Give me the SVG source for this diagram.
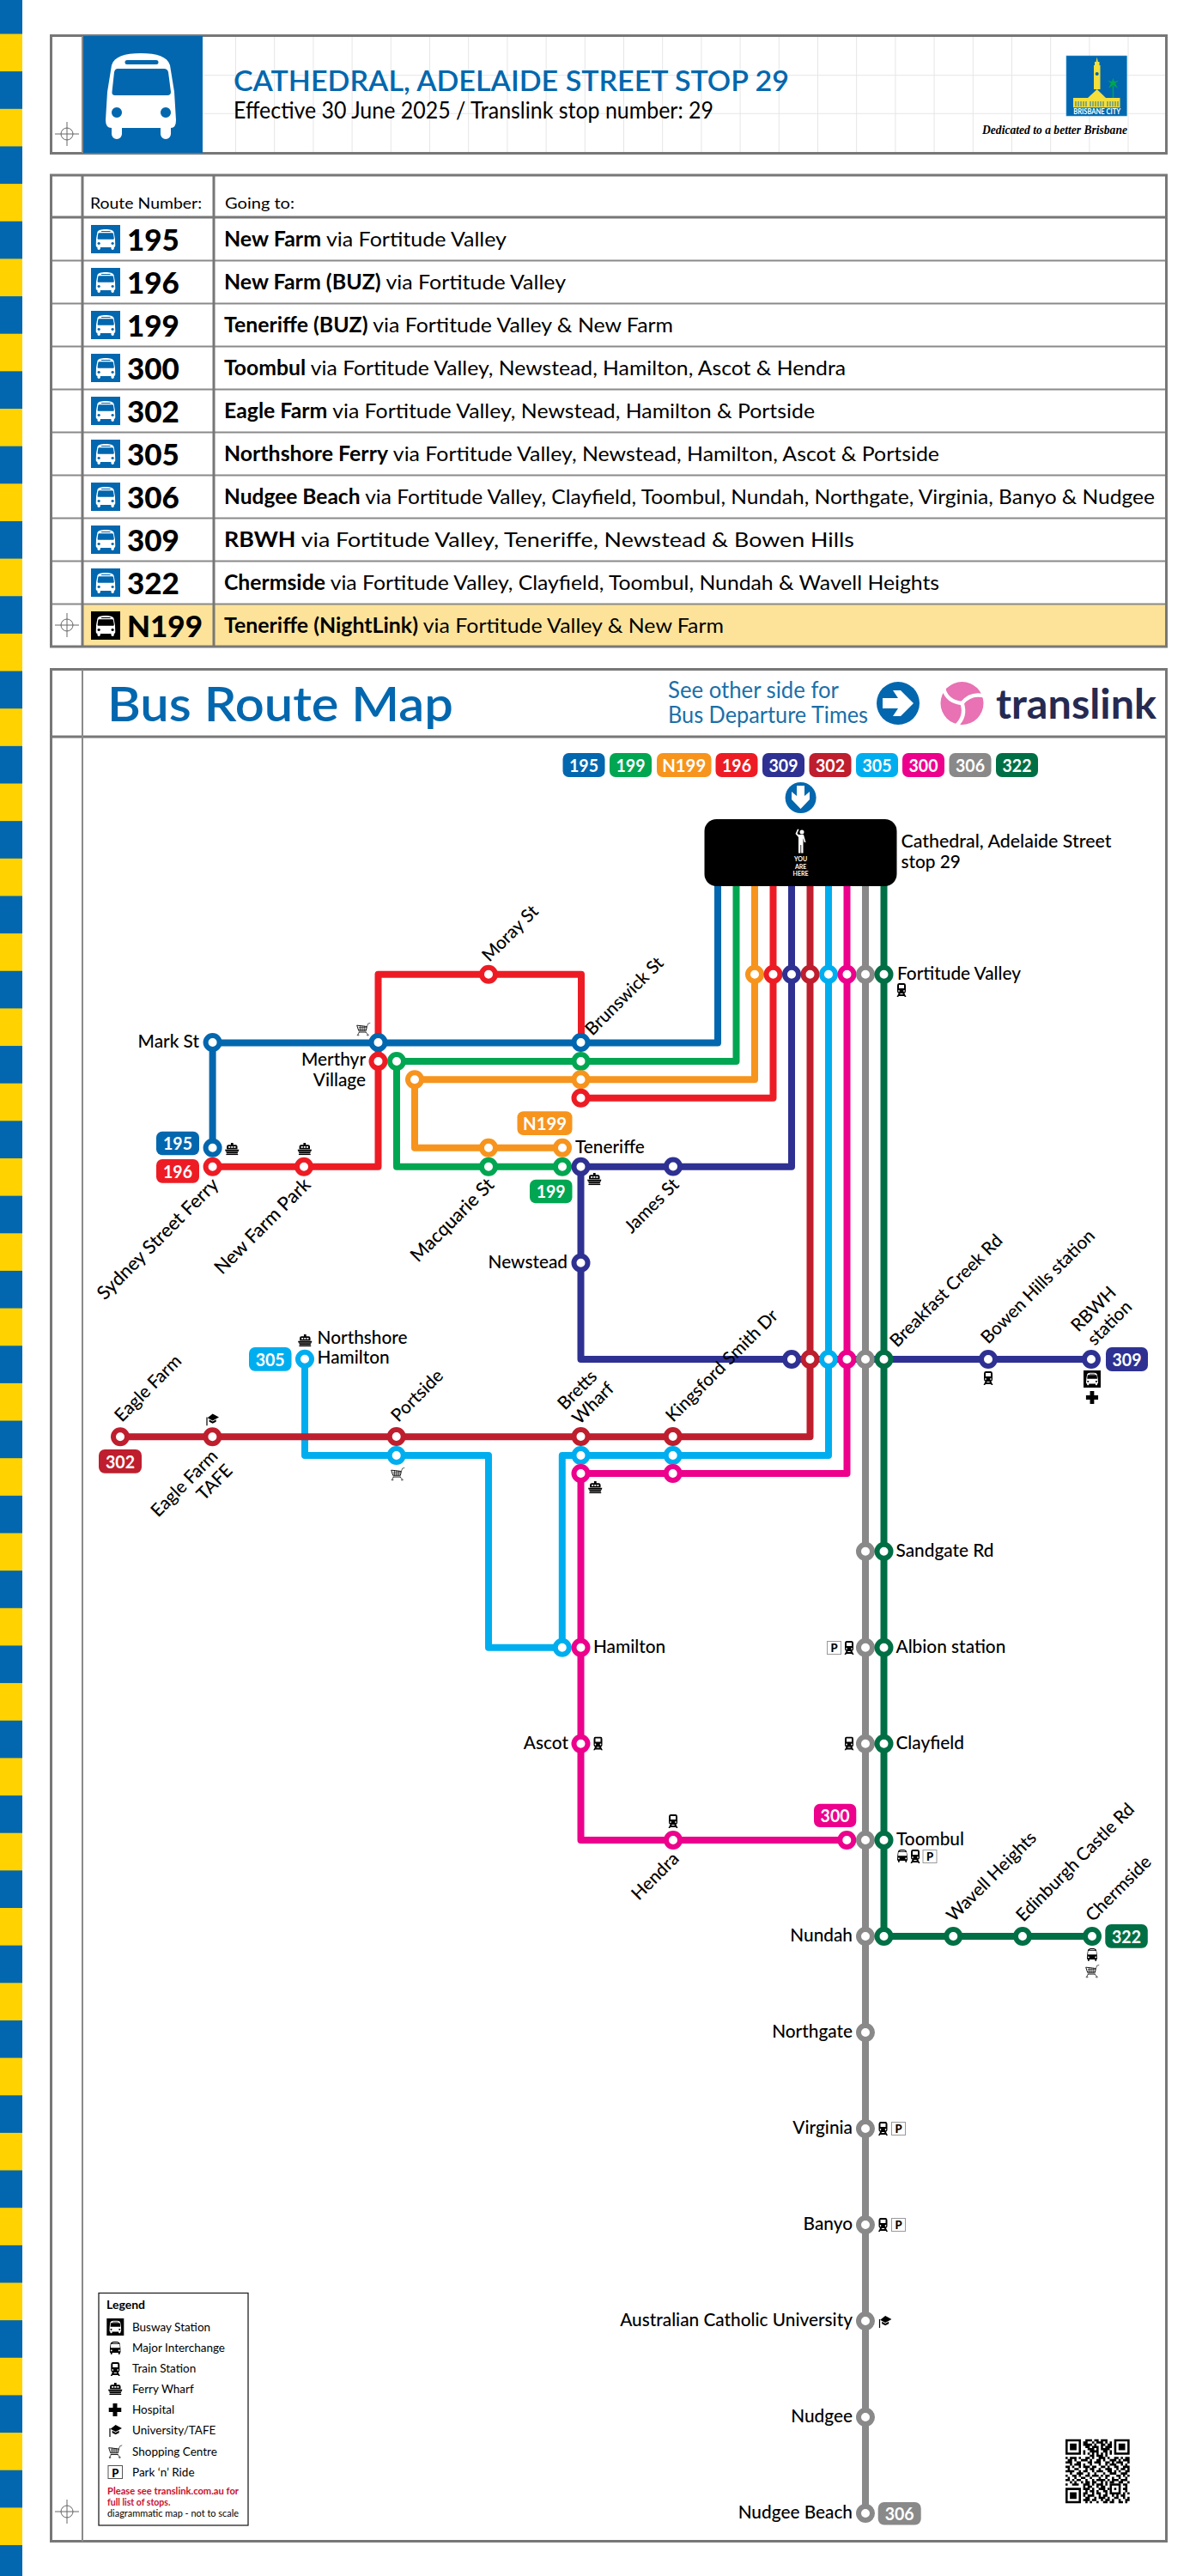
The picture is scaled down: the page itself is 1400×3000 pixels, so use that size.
<svg xmlns="http://www.w3.org/2000/svg" width="1400" height="3000" viewBox="0 0 1400 3000">
<style>
text{font-family:Lato,"Liberation Sans",sans-serif;fill:#000}
.frame{fill:none;stroke:#777;stroke-width:3}
.thin{stroke:#8a8a8a;stroke-width:2;fill:none}
.grid{stroke:#e6e6e6;stroke-width:1;fill:none}
.ln{fill:none;stroke-width:8;stroke-linejoin:round}
.s{fill:#fff;stroke-width:6}
.l{font-size:20.800px;font-weight:500}
.p{font-size:21px;font-weight:700;fill:#fff;text-anchor:middle}
.e{text-anchor:end}
.n{font-size:35px;font-weight:900}
.d{font-size:24px}
.b{font-weight:700}
.lg{font-size:13.500px}
.pk{fill:#fff;stroke:#999;stroke-width:1}
.pt{font-size:13px;font-weight:900;text-anchor:middle}
.blue{stroke:#0267ae}.green{stroke:#00a651}.orange{stroke:#f7941d}.red{stroke:#ed1c24}.navy{stroke:#2e3192}.crim{stroke:#be1e2d}.sky{stroke:#00aeef}.mag{stroke:#ec008c}.gray{stroke:#898989}.dk{stroke:#006f45}
.fblue{fill:#0267ae}.fgreen{fill:#00a651}.forange{fill:#f7941d}.fred{fill:#ed1c24}.fnavy{fill:#2e3192}.fcrim{fill:#be1e2d}.fsky{fill:#00aeef}.fmag{fill:#ec008c}.fgray{fill:#898989}.fdk{fill:#006f45}
</style>
<defs>
<pattern id="stripe" patternUnits="userSpaceOnUse" x="0" y="-4.15" width="26" height="87.3">
<rect width="26" height="43.65" fill="#0267ae"/><rect y="43.65" width="26" height="43.65" fill="#ffd200"/>
</pattern>
<symbol id="bus" viewBox="0 0 82 100" preserveAspectRatio="none">
<path fill-rule="evenodd" d="M41 0C60 0 72 4 75 14L80 45L82 78Q82 87 76 87V94a6 6 0 0 1-12 0V87H19V94a6 6 0 0 1-12 0V87Q0 87 0 78L2 45L7 14C10 4 22 0 41 0ZM25 8a2.400 2.400 0 0 0 0 5H59a2.400 2.400 0 0 0 0-5ZM14 18Q11 18 10 22L7.500 45Q7 49 11 49H72Q76 49 76 45L73 22Q72 18 68 18ZM13 63a6 6 0 1 0 .01 0ZM70 63a6 6 0 1 0 .01 0Z"/>
</symbol>
<symbol id="train" viewBox="0 0 24 24" preserveAspectRatio="none">
<path fill-rule="evenodd" d="M6 0H18Q22 0 22 4V14Q22 18 18 18H6Q2 18 2 14V4Q2 0 6 0ZM6 3V9H18V3ZM6 12a1.500 1.500 0 1 0 .01 0ZM18 12a1.500 1.500 0 1 0 .01 0ZM5 18H9L8.500 19.500H15.500L15 18H19L23 24H19.500L18.500 22.500H5.500L4.500 24H1Z"/>
</symbol>
<symbol id="ferry" viewBox="0 0 24 20" preserveAspectRatio="none">
<path fill-rule="evenodd" d="M10 0H14V3H18Q21 3 21 6V10H3V6Q3 3 6 3H10ZM6 5.500V8H9V5.500ZM10.500 5.500V8H13.500V5.500ZM15 5.500V8H18V5.500ZM0 11H24L23 13.500H1ZM1.500 14.500H22.500L21 17H3ZM2 18H22V20H2Z"/>
</symbol>
<symbol id="cart" viewBox="0 0 24 24" preserveAspectRatio="none">
<path d="M1 6L18 8L16.500 15H4ZM4 17.500H17" fill="none" stroke="#000" stroke-width="1.300"/>
<path d="M4 9.500H17.500M4 12.500H17M6.500 6V15M10 6.500V15M13.500 7V15M18 8L20 3L24 2" fill="none" stroke="#000" stroke-width=".9"/>
<path d="M5 17.500L3 21M16 17.500L19 21" fill="none" stroke="#000" stroke-width="1"/><circle cx="3" cy="22.500" r="1.200" fill="none" stroke="#000"/><circle cx="19.500" cy="22.500" r="1.200" fill="none" stroke="#000"/>
</symbol>
<symbol id="cap" viewBox="0 0 24 24" preserveAspectRatio="none">
<path d="M13 3L24 9L13 15L4 10Z M7 13L13 16.500L19 13V17L13 20L7 17Z"/><path d="M3 9V24" fill="none" stroke="#000" stroke-width="1.800"/>
</symbol>
<symbol id="cross" viewBox="0 0 24 24" preserveAspectRatio="none"><path d="M8 0H16V8H24V16H16V24H8V16H0V8H8Z"/></symbol>
</defs>

<g id="stripes"><rect x="0" y="0" width="26" height="3000" fill="url(#stripe)"/></g>

<g id="header-panel">
<path class="grid" d="M274.500 43V177M319.700 43V177M364.900 43V177M410.100 43V177M455.300 43V177M500.500 43V177M545.700 43V177M590.900 43V177M636.100 43V177M681.300 43V177M726.500 43V177M771.700 43V177M816.900 43V177M862.100 43V177M907.300 43V177M952.500 43V177M997.700 43V177M1042.900 43V177M1088.100 43V177M1133.300 43V177M1178.500 43V177M1223.700 43V177M1268.900 43V177M1314 43V177M235 87.700H1358M235 132.300H1358"/>
<rect class="frame" x="59.500" y="41.500" width="1299" height="137"/>
<rect x="96" y="42" width="140" height="136" fill="#0267ae"/>
<path class="thin" d="M96 42V178"/>
<use href="#bus" x="123" y="62" width="82" height="100" fill="#fff"/>
<g id="crosshair-1" stroke="#666" stroke-width="1" fill="none"><circle cx="78" cy="156" r="7"/><path d="M64 156H92M78 142V170"/></g>
<text x="272" y="106" font-size="33" font-weight="600" style="fill:#0267ae" textLength="647" lengthAdjust="spacingAndGlyphs">CATHEDRAL, ADELAIDE STREET STOP 29</text>
<text x="272" y="138" font-size="26" textLength="559" lengthAdjust="spacingAndGlyphs">Effective 30 June 2025 / Translink stop number: 29</text>
<g id="city-logo">
<rect x="1242" y="65" width="70.500" height="70" fill="#0267ae" stroke="#3b9ad6" stroke-width=".6"/>
<path fill="#f4df3c" d="M1277.700 66.500L1278.800 72H1280.500V76H1281.500V104H1274V76H1275V72H1276.600Z"/>
<circle cx="1277.700" cy="86" r="2" fill="#0267ae"/>
<path fill="#f4df3c" d="M1250 114H1267L1277.700 104L1288 114H1304.500V117H1250Z"/>
<path fill="#f4df3c" d="M1250 117H1304.500V125H1250Z"/>
<path stroke="#0267ae" stroke-width=".9" d="M1253 118V124M1256 118V124M1259 118V124M1262 118V124M1265 118V124M1270 118V124M1273 118V124M1276 118V124M1279 118V124M1282 118V124M1285 118V124M1290 118V124M1293 118V124M1296 118V124M1299 118V124M1302 118V124"/>
<path stroke="#00a651" stroke-width="1.500" d="M1296.500 100V114"/>
<path fill="#00a651" d="M1296.500 91L1298 95L1303 94L1299 97L1302 103L1296.500 99L1291 103L1294 97L1290 94L1295 95Z"/>
<rect x="1250" y="125" width="55" height="1" fill="#00a651"/>
<text x="1277.700" y="132.500" font-size="9" font-weight="700" text-anchor="middle" style="fill:#fff" textLength="55" lengthAdjust="spacingAndGlyphs">BRISBANE CITY</text>
</g>
<text x="1144" y="156" font-size="15" font-weight="700" font-style="italic" style="font-family:'Liberation Serif',serif" textLength="169" lengthAdjust="spacingAndGlyphs">Dedicated to a better Brisbane</text>
</g>

<g id="routes-table">
<rect x="96" y="703" width="1263" height="50" fill="#fde39a"/>
<path class="thin" d="M60 303.500H1358M60 353.500H1358M60 403.500H1358M60 453.500H1358M60 503.500H1358M60 553.500H1358M60 603.500H1358M60 653.500H1358M60 703.500H1358"/>
<path class="frame" d="M60 253H1358M96 203V753M249 203V753"/>
<rect class="frame" x="59.500" y="204" width="1299" height="549"/>
<text x="105" y="243" font-size="18" textLength="130" lengthAdjust="spacingAndGlyphs">Route Number:</text>
<text x="262" y="243" font-size="18" textLength="81" lengthAdjust="spacingAndGlyphs">Going to:</text>
<g id="row-195"><rect x="106" y="262" width="34" height="33" class="fblue"/><use href="#bus" x="111.500" y="267" width="23" height="24" fill="#fff"/><text class="n" x="148" y="292">195</text><text class="d" x="261" y="287" textLength="329" lengthAdjust="spacingAndGlyphs"><tspan class="b">New Farm</tspan> via Fortitude Valley</text></g>
<g id="row-196"><rect x="106" y="312" width="34" height="33" class="fblue"/><use href="#bus" x="111.500" y="317" width="23" height="24" fill="#fff"/><text class="n" x="148" y="342">196</text><text class="d" x="261" y="337" textLength="398" lengthAdjust="spacingAndGlyphs"><tspan class="b">New Farm (BUZ)</tspan> via Fortitude Valley</text></g>
<g id="row-199"><rect x="106" y="362" width="34" height="33" class="fblue"/><use href="#bus" x="111.500" y="367" width="23" height="24" fill="#fff"/><text class="n" x="148" y="392">199</text><text class="d" x="261" y="387" textLength="523" lengthAdjust="spacingAndGlyphs"><tspan class="b">Teneriffe (BUZ)</tspan> via Fortitude Valley &amp; New Farm</text></g>
<g id="row-300"><rect x="106" y="412" width="34" height="33" class="fblue"/><use href="#bus" x="111.500" y="417" width="23" height="24" fill="#fff"/><text class="n" x="148" y="442">300</text><text class="d" x="261" y="437" textLength="724" lengthAdjust="spacingAndGlyphs"><tspan class="b">Toombul</tspan> via Fortitude Valley, Newstead, Hamilton, Ascot &amp; Hendra</text></g>
<g id="row-302"><rect x="106" y="462" width="34" height="33" class="fblue"/><use href="#bus" x="111.500" y="467" width="23" height="24" fill="#fff"/><text class="n" x="148" y="492">302</text><text class="d" x="261" y="487" textLength="688" lengthAdjust="spacingAndGlyphs"><tspan class="b">Eagle Farm</tspan> via Fortitude Valley, Newstead, Hamilton &amp; Portside</text></g>
<g id="row-305"><rect x="106" y="512" width="34" height="33" class="fblue"/><use href="#bus" x="111.500" y="517" width="23" height="24" fill="#fff"/><text class="n" x="148" y="542">305</text><text class="d" x="261" y="537" textLength="833" lengthAdjust="spacingAndGlyphs"><tspan class="b">Northshore Ferry</tspan> via Fortitude Valley, Newstead, Hamilton, Ascot &amp; Portside</text></g>
<g id="row-306"><rect x="106" y="562" width="34" height="33" class="fblue"/><use href="#bus" x="111.500" y="567" width="23" height="24" fill="#fff"/><text class="n" x="148" y="592">306</text><text class="d" x="261" y="587" textLength="1084" lengthAdjust="spacingAndGlyphs"><tspan class="b">Nudgee Beach</tspan> via Fortitude Valley, Clayfield, Toombul, Nundah, Northgate, Virginia, Banyo &amp; Nudgee</text></g>
<g id="row-309"><rect x="106" y="612" width="34" height="33" class="fblue"/><use href="#bus" x="111.500" y="617" width="23" height="24" fill="#fff"/><text class="n" x="148" y="642">309</text><text class="d" x="261" y="637" textLength="734" lengthAdjust="spacingAndGlyphs"><tspan class="b">RBWH</tspan> via Fortitude Valley, Teneriffe, Newstead &amp; Bowen Hills</text></g>
<g id="row-322"><rect x="106" y="662" width="34" height="33" class="fblue"/><use href="#bus" x="111.500" y="667" width="23" height="24" fill="#fff"/><text class="n" x="148" y="692">322</text><text class="d" x="261" y="687" textLength="833" lengthAdjust="spacingAndGlyphs"><tspan class="b">Chermside</tspan> via Fortitude Valley, Clayfield, Toombul, Nundah &amp; Wavell Heights</text></g>
<g id="row-N199"><rect x="106" y="712" width="34" height="33" fill="#000"/><use href="#bus" x="111.500" y="717" width="23" height="24" fill="#fff"/><text class="n" x="148" y="742">N199</text><text class="d" x="261" y="737" textLength="582" lengthAdjust="spacingAndGlyphs"><tspan class="b">Teneriffe (NightLink)</tspan> via Fortitude Valley &amp; New Farm</text></g>
<g id="crosshair-2" stroke="#666" stroke-width="1" fill="none"><circle cx="78" cy="728" r="7"/><path d="M64 728H92M78 714V742"/></g>
</g>

<g id="map-frame">
<rect class="frame" x="59.500" y="779.500" width="1299" height="2180"/>
<path class="frame" d="M60 858H1358"/><path class="thin" d="M96 780V2960" stroke-width="3"/>
<text x="125" y="840" font-size="56" font-weight="600" style="fill:#0267ae" textLength="403" lengthAdjust="spacingAndGlyphs">Bus Route Map</text>
<text x="778" y="813" font-size="27" style="fill:#1b6fa8" textLength="199" lengthAdjust="spacingAndGlyphs">See other side for</text>
<text x="778" y="842" font-size="27" style="fill:#1b6fa8" textLength="233" lengthAdjust="spacingAndGlyphs">Bus Departure Times</text>
<circle cx="1046" cy="819" r="25" class="fblue"/>
<path fill="#fff" d="M1028 813H1046L1040 804H1049L1064 819L1049 834H1040L1046 825H1028Z"/>
<g id="translink-mark">
<circle cx="1120.500" cy="819" r="25" fill="#e872b3"/>
<g fill="none" stroke="#fff" stroke-width="4.500" stroke-linecap="round">
<path d="M1120.500 819C1127 811 1135 807 1148 811"/>
<path d="M1120.500 819C1124 829 1122 838 1113 846"/>
<path d="M1120.500 819C1110 818 1102 813 1099 802"/>
</g></g>
<text x="1160" y="837" font-size="47" font-weight="700" style="fill:#252a52" textLength="187" lengthAdjust="spacingAndGlyphs">translink</text>
<g id="crosshair-3" stroke="#666" stroke-width="1" fill="none"><circle cx="78" cy="2925" r="7"/><path d="M64 2925H92M78 2911V2939"/></g>
</g>

<g id="route-key">
<rect x="655.500" y="877" width="49" height="28" rx="7" class="fblue"/><text class="p" x="680" y="898.500" textLength="34" lengthAdjust="spacingAndGlyphs">195</text>
<rect x="710" y="877" width="49" height="28" rx="7" class="fgreen"/><text class="p" x="734.500" y="898.500" textLength="34" lengthAdjust="spacingAndGlyphs">199</text>
<rect x="765" y="877" width="63.500" height="28" rx="7" class="forange"/><text class="p" x="796.700" y="898.500" textLength="51" lengthAdjust="spacingAndGlyphs">N199</text>
<rect x="833.500" y="877" width="49" height="28" rx="7" class="fred"/><text class="p" x="858" y="898.500" textLength="34" lengthAdjust="spacingAndGlyphs">196</text>
<rect x="888" y="877" width="49" height="28" rx="7" class="fnavy"/><text class="p" x="912.500" y="898.500" textLength="34" lengthAdjust="spacingAndGlyphs">309</text>
<rect x="942.500" y="877" width="49" height="28" rx="7" class="fcrim"/><text class="p" x="967" y="898.500" textLength="34" lengthAdjust="spacingAndGlyphs">302</text>
<rect x="997" y="877" width="49" height="28" rx="7" class="fsky"/><text class="p" x="1021.500" y="898.500" textLength="34" lengthAdjust="spacingAndGlyphs">305</text>
<rect x="1051" y="877" width="49" height="28" rx="7" class="fmag"/><text class="p" x="1075.500" y="898.500" textLength="34" lengthAdjust="spacingAndGlyphs">300</text>
<rect x="1105.500" y="877" width="49" height="28" rx="7" class="fgray"/><text class="p" x="1130" y="898.500" textLength="34" lengthAdjust="spacingAndGlyphs">306</text>
<rect x="1160" y="877" width="49" height="28" rx="7" class="fdk"/><text class="p" x="1184.500" y="898.500" textLength="34" lengthAdjust="spacingAndGlyphs">322</text>
</g>

<g id="connectors">
<path class="ln sky" d="M355 1582.700V1695H569V1918.700H654.800V1695H965V1025"/>
<path class="ln crim" d="M140 1673.300H943.500V1025"/>
<path class="ln mag" d="M986.500 1025V1716H676.500V2143H986.500"/>
<path class="ln green" d="M655 1358.700H462V1236H857.500V1025"/>
<path class="ln orange" d="M655 1336.700H483V1257.300H879V1025"/>
<path class="ln red" d="M247.600 1358.700H440.500V1134.700H677V1214"/>
<path class="ln red" d="M677 1278.700H900.500V1025"/>
<path class="ln blue" d="M247.600 1336.700V1214.500H836V1025"/>
<path class="ln navy" d="M922 1025V1358.700H676.500V1583H1272"/>
<path class="ln gray" d="M1008 1025V2927"/>
<path class="ln dk" d="M1029.500 1025V2255H1272"/>
</g>

<g id="origin">
<circle cx="932.600" cy="929" r="18" class="fblue"/>
<path fill="#fff" d="M928 915H937V927L943 922V931L932.500 942L922 931V922L928 927Z"/>
<rect x="820.500" y="954" width="224" height="78" rx="14" fill="#000"/>
<circle cx="934" cy="969" r="2.500" fill="#fff"/>
<path fill="#fff" d="M930 972H936L938.500 981H936.800L935.500 976V993.500H933.200V984H932.400V993.500H930V975L926.500 971L929 965.500L930.500 966L928.500 970.500Z"/>
<text x="932.600" y="1003" font-size="7" font-weight="700" text-anchor="middle" style="fill:#fff">YOU</text>
<text x="932.600" y="1011.500" font-size="7" font-weight="700" text-anchor="middle" style="fill:#fff">ARE</text>
<text x="932.600" y="1020" font-size="7" font-weight="700" text-anchor="middle" style="fill:#fff">HERE</text>
<text class="l" x="1049.500" y="987" textLength="245" lengthAdjust="spacingAndGlyphs">Cathedral, Adelaide Street</text>
<text class="l" x="1049.500" y="1011">stop 29</text>
</g>

<g id="stop-fortitude-valley">
<circle class="s orange" cx="879" cy="1134.700" r="8"/><circle class="s red" cx="900.500" cy="1134.700" r="8"/><circle class="s navy" cx="922" cy="1134.700" r="8"/><circle class="s crim" cx="943.500" cy="1134.700" r="8"/><circle class="s sky" cx="965" cy="1134.700" r="8"/><circle class="s mag" cx="986.500" cy="1134.700" r="8"/><circle class="s gray" cx="1008" cy="1134.700" r="8"/><circle class="s dk" cx="1029.500" cy="1134.700" r="8"/>
<text class="l" x="1045" y="1140.700">Fortitude Valley</text>
<use href="#train" x="1044" y="1145" width="12" height="16"/>
</g>
<g id="stop-moray-st"><circle class="s red" cx="569" cy="1134.700" r="8"/><text class="l" transform="rotate(-45 570 1121)" x="570" y="1121">Moray St</text></g>
<g id="stop-brunswick-st"><circle class="s blue" cx="676.500" cy="1214" r="8"/><circle class="s green" cx="676.500" cy="1236" r="8"/><circle class="s orange" cx="676.500" cy="1257.300" r="8"/><circle class="s red" cx="676.500" cy="1278.700" r="8"/><text class="l" transform="rotate(-45 690 1207)" x="690" y="1207">Brunswick St</text></g>
<g id="stop-mark-st"><circle class="s blue" cx="247.600" cy="1214" r="8"/><text class="l e" x="232" y="1220">Mark St</text></g>
<g id="stop-merthyr-village"><circle class="s red" cx="440.500" cy="1236" r="8"/><circle class="s blue" cx="440.500" cy="1214" r="8"/><circle class="s green" cx="462" cy="1236" r="8"/><circle class="s orange" cx="483" cy="1257.300" r="8"/><text class="l e" x="426" y="1240.700">Merthyr</text><text class="l e" x="426" y="1265">Village</text><use href="#cart" x="415" y="1190" width="16.500" height="16.500"/></g>
<g id="stop-sydney-street-ferry"><circle class="s blue" cx="247.600" cy="1336.700" r="8"/><circle class="s red" cx="247.600" cy="1358.700" r="8"/><text class="l e" transform="rotate(-45 256 1381)" x="256" y="1381" style="font-size:22px">Sydney Street Ferry</text><use href="#ferry" x="262" y="1331" width="16.600" height="14.300"/>
<rect x="182" y="1317.700" width="50" height="27.500" rx="7" class="fblue"/><text class="p" x="207" y="1339" textLength="34" lengthAdjust="spacingAndGlyphs">195</text>
<rect x="182" y="1350" width="50" height="27.700" rx="7" class="fred"/><text class="p" x="207" y="1371.500" textLength="34" lengthAdjust="spacingAndGlyphs">196</text></g>
<g id="stop-new-farm-park"><circle class="s red" cx="354" cy="1358.700" r="8"/><text class="l e" transform="rotate(-45 363 1381)" x="363" y="1381" style="font-size:22px">New Farm Park</text><use href="#ferry" x="346.500" y="1331" width="16.600" height="14.300"/></g>
<g id="stop-macquarie-st"><circle class="s orange" cx="569" cy="1336.700" r="8"/><circle class="s green" cx="569" cy="1358.700" r="8"/><text class="l e" transform="rotate(-45 577 1381)" x="577" y="1381" style="font-size:22px">Macquarie St</text></g>
<g id="stop-teneriffe"><circle class="s orange" cx="655" cy="1336.700" r="8"/><circle class="s green" cx="655" cy="1358.700" r="8"/><circle class="s navy" cx="676.500" cy="1358.700" r="8"/><text class="l" x="670" y="1343">Teneriffe</text><use href="#ferry" x="684" y="1366" width="16.600" height="14.300"/>
<rect x="602.500" y="1294.300" width="64" height="27.700" rx="7" class="forange"/><text class="p" x="634.500" y="1316" textLength="51" lengthAdjust="spacingAndGlyphs">N199</text>
<rect x="617" y="1373.700" width="49.500" height="27.600" rx="7" class="fgreen"/><text class="p" x="641.700" y="1395" textLength="34" lengthAdjust="spacingAndGlyphs">199</text></g>
<g id="stop-james-st"><circle class="s navy" cx="784" cy="1358.500" r="8"/><text class="l e" transform="rotate(-45 792 1381)" x="792" y="1381">James St</text></g>
<g id="stop-newstead"><circle class="s navy" cx="676.500" cy="1470.700" r="8"/><text class="l e" x="661" y="1477">Newstead</text></g>
<g id="stop-breakfast-creek-rd"><circle class="s navy" cx="922" cy="1583" r="8"/><circle class="s crim" cx="943.500" cy="1583" r="8"/><circle class="s sky" cx="965" cy="1583" r="8"/><circle class="s mag" cx="986.500" cy="1583" r="8"/><circle class="s gray" cx="1008" cy="1583" r="8"/><circle class="s dk" cx="1029.500" cy="1583" r="8"/><text class="l" transform="rotate(-45 1045 1570)" x="1045" y="1570">Breakfast Creek Rd</text></g>
<g id="stop-bowen-hills"><circle class="s navy" cx="1151" cy="1583" r="8"/><text class="l" transform="rotate(-45 1151 1566)" x="1151" y="1566">Bowen Hills station</text><use href="#train" x="1145" y="1597" width="12" height="16"/></g>
<g id="stop-rbwh"><circle class="s navy" cx="1271" cy="1583" r="8"/><text class="l" transform="rotate(-45 1256 1552)" x="1256" y="1552">RBWH</text><text class="l" transform="rotate(-45 1275 1568)" x="1275" y="1568">station</text>
<rect x="1262" y="1596" width="20" height="20" fill="#000"/><use href="#bus" x="1265" y="1598.500" width="14" height="15" fill="#fff"/><use href="#cross" x="1264.700" y="1620" width="14.500" height="15"/>
<rect x="1288" y="1569" width="49" height="28" rx="7" class="fnavy"/><text class="p" x="1312.500" y="1590.500" textLength="34" lengthAdjust="spacingAndGlyphs">309</text></g>
<g id="stop-kingsford-smith-dr"><circle class="s crim" cx="783.700" cy="1673" r="8"/><circle class="s sky" cx="783.700" cy="1695" r="8"/><circle class="s mag" cx="783.700" cy="1716" r="8"/><text class="l" transform="rotate(-45 784 1657)" x="784" y="1657">Kingsford Smith Dr</text></g>
<g id="stop-bretts-wharf"><circle class="s crim" cx="676.500" cy="1673" r="8"/><circle class="s sky" cx="676.500" cy="1695" r="8"/><circle class="s mag" cx="676.500" cy="1716" r="8"/><text class="l" transform="rotate(-45 658 1643)" x="658" y="1643">Bretts</text><text class="l" transform="rotate(-45 675 1660)" x="675" y="1660">Wharf</text><use href="#ferry" x="685" y="1725" width="16.600" height="14.300"/></g>
<g id="stop-portside"><circle class="s crim" cx="461.700" cy="1673" r="8"/><circle class="s sky" cx="461.700" cy="1695" r="8"/><text class="l" transform="rotate(-45 464 1657)" x="464" y="1657">Portside</text><use href="#cart" x="455" y="1708" width="16.500" height="16.500"/></g>
<g id="stop-eagle-farm"><circle class="s crim" cx="140" cy="1673.300" r="8"/><text class="l" transform="rotate(-45 142 1657)" x="142" y="1657">Eagle Farm</text>
<rect x="115" y="1688" width="50" height="27.700" rx="7" class="fcrim"/><text class="p" x="140" y="1709.500" textLength="34" lengthAdjust="spacingAndGlyphs">302</text></g>
<g id="stop-eagle-farm-tafe"><circle class="s crim" cx="247.400" cy="1673.300" r="8"/><text class="l e" transform="rotate(-45 255 1697)" x="255" y="1697">Eagle Farm</text><text class="l e" transform="rotate(-45 272 1714)" x="272" y="1714">TAFE</text><use href="#cap" x="239" y="1644.500" width="16" height="16"/></g>
<g id="stop-northshore-hamilton"><circle class="s sky" cx="355" cy="1582.700" r="8"/><text class="l" x="369.600" y="1565">Northshore</text><text class="l" x="369.600" y="1588">Hamilton</text><use href="#ferry" x="347" y="1554" width="16.600" height="14.300"/>
<rect x="290" y="1569" width="49.500" height="27.700" rx="7" class="fsky"/><text class="p" x="314.700" y="1590.500" textLength="34" lengthAdjust="spacingAndGlyphs">305</text></g>
<g id="stop-hamilton"><circle class="s sky" cx="654.800" cy="1918.700" r="8"/><circle class="s mag" cx="676.500" cy="1918.700" r="8"/><text class="l" x="691" y="1925">Hamilton</text></g>
<g id="stop-ascot"><circle class="s mag" cx="676.500" cy="2030.700" r="8"/><text class="l e" x="662" y="2036.700">Ascot</text><use href="#train" x="690.500" y="2022.500" width="12" height="16"/></g>
<g id="stop-hendra"><circle class="s mag" cx="784" cy="2143" r="8"/><text class="l e" transform="rotate(-45 792 2166)" x="792" y="2166">Hendra</text><use href="#train" x="778" y="2113" width="12" height="16"/></g>
<g id="stop-sandgate-rd"><circle class="s gray" cx="1008" cy="1806.700" r="8"/><circle class="s dk" cx="1029.500" cy="1806.700" r="8"/><text class="l" x="1043.500" y="1813">Sandgate Rd</text></g>
<g id="stop-albion"><circle class="s gray" cx="1008" cy="1918.700" r="8"/><circle class="s dk" cx="1029.500" cy="1918.700" r="8"/><text class="l" x="1043.500" y="1925">Albion station</text><use href="#train" x="983" y="1911" width="12" height="16"/><rect class="pk" x="963.500" y="1911.500" width="16" height="15"/><text class="pt" x="971.500" y="1924">P</text></g>
<g id="stop-clayfield"><circle class="s gray" cx="1008" cy="2030.700" r="8"/><circle class="s dk" cx="1029.500" cy="2030.700" r="8"/><text class="l" x="1043.500" y="2036.700">Clayfield</text><use href="#train" x="983" y="2022.500" width="12" height="16"/></g>
<g id="stop-toombul"><circle class="s mag" cx="986.300" cy="2143" r="8"/><circle class="s gray" cx="1008" cy="2143" r="8"/><circle class="s dk" cx="1029.500" cy="2143" r="8"/><text class="l" x="1044" y="2148.500">Toombul</text><use href="#bus" x="1045" y="2154" width="12" height="15"/><use href="#train" x="1060" y="2154" width="12" height="16"/><rect class="pk" x="1075" y="2154.500" width="16" height="15"/><text class="pt" x="1083" y="2167">P</text>
<rect x="948" y="2100.700" width="49.300" height="27.300" rx="7" class="fmag"/><text class="p" x="972.600" y="2122" textLength="34" lengthAdjust="spacingAndGlyphs">300</text></g>
<g id="stop-nundah"><circle class="s gray" cx="1008" cy="2255" r="8"/><circle class="s dk" cx="1029.500" cy="2255" r="8"/><text class="l e" x="993" y="2260.500">Nundah</text></g>
<g id="stop-wavell-heights"><circle class="s dk" cx="1110.300" cy="2255" r="8"/><text class="l" transform="rotate(-45 1111 2239)" x="1111" y="2239">Wavell Heights</text></g>
<g id="stop-edinburgh-castle-rd"><circle class="s dk" cx="1191" cy="2255" r="8"/><text class="l" transform="rotate(-45 1192 2239)" x="1192" y="2239">Edinburgh Castle Rd</text></g>
<g id="stop-chermside"><circle class="s dk" cx="1272" cy="2255" r="8"/><text class="l" transform="rotate(-45 1273 2239)" x="1273" y="2239">Chermside</text><use href="#bus" x="1266" y="2269" width="12" height="15"/><use href="#cart" x="1264" y="2287" width="16.500" height="16.500"/>
<rect x="1287.300" y="2241" width="49.500" height="27.700" rx="7" class="fdk"/><text class="p" x="1312" y="2262.500" textLength="34" lengthAdjust="spacingAndGlyphs">322</text></g>
<g id="stop-northgate"><circle class="s gray" cx="1008" cy="2367" r="8"/><text class="l e" x="993" y="2373">Northgate</text></g>
<g id="stop-virginia"><circle class="s gray" cx="1008" cy="2479" r="8"/><text class="l e" x="993" y="2485">Virginia</text><use href="#train" x="1022.500" y="2471" width="12" height="16"/><rect class="pk" x="1038.500" y="2471.500" width="16" height="15"/><text class="pt" x="1046.500" y="2484">P</text></g>
<g id="stop-banyo"><circle class="s gray" cx="1008" cy="2591" r="8"/><text class="l e" x="993" y="2597">Banyo</text><use href="#train" x="1022.500" y="2583" width="12" height="16"/><rect class="pk" x="1038.500" y="2583.500" width="16" height="15"/><text class="pt" x="1046.500" y="2596">P</text></g>
<g id="stop-acu"><circle class="s gray" cx="1008" cy="2703" r="8"/><text class="l e" x="993" y="2709">Australian Catholic University</text><use href="#cap" x="1022.500" y="2695" width="16" height="16"/></g>
<g id="stop-nudgee"><circle class="s gray" cx="1008" cy="2815" r="8"/><text class="l e" x="993" y="2821">Nudgee</text></g>
<g id="stop-nudgee-beach"><circle class="s gray" cx="1008" cy="2927" r="8"/><text class="l e" x="993" y="2933">Nudgee Beach</text>
<rect x="1022.700" y="2914" width="50" height="26.500" rx="7" class="fgray"/><text class="p" x="1047.700" y="2935" textLength="34" lengthAdjust="spacingAndGlyphs">306</text></g>

<g id="legend">
<rect x="115" y="2670.500" width="174" height="270.500" fill="#fff" stroke="#222" stroke-width="1.300"/>
<text x="124" y="2689" font-size="14" font-weight="700">Legend</text>
<rect x="124.300" y="2700" width="20" height="20" fill="#000"/><use href="#bus" x="127.300" y="2702.500" width="14" height="15" fill="#fff"/>
<text class="lg" x="154" y="2715">Busway Station</text>
<use href="#bus" x="127.700" y="2727" width="13" height="15"/><text class="lg" x="154" y="2739">Major Interchange</text>
<use href="#train" x="128.300" y="2751" width="12" height="16"/><text class="lg" x="154" y="2763.300">Train Station</text>
<use href="#ferry" x="126" y="2775" width="16.600" height="14.300"/><text class="lg" x="154" y="2787">Ferry Wharf</text>
<use href="#cross" x="126.500" y="2799" width="15" height="15"/><text class="lg" x="154" y="2811">Hospital</text>
<use href="#cap" x="126" y="2822" width="16" height="16"/><text class="lg" x="154" y="2835">University/TAFE</text>
<use href="#cart" x="126" y="2846.500" width="16.500" height="16.500"/><text class="lg" x="154" y="2860">Shopping Centre</text>
<rect x="126" y="2871.500" width="16.500" height="15" fill="#fff" stroke="#555" stroke-width="1"/><text class="pt" x="134.300" y="2884.500">P</text><text class="lg" x="154" y="2884">Park ‘n’ Ride</text>
<text x="125" y="2905" font-size="10.500" font-weight="700" style="fill:#c8102e" textLength="153" lengthAdjust="spacingAndGlyphs">Please see translink.com.au for</text>
<text x="125" y="2917.700" font-size="10.500" font-weight="700" style="fill:#c8102e">full list of stops.</text>
<text x="125" y="2930.700" font-size="10.500" textLength="153" lengthAdjust="spacingAndGlyphs">diagrammatic map - not to scale</text>
</g>

<g id="qr" transform="translate(1241 2840.700) scale(2.575)">
<path fill-rule="evenodd" d="M0 0h7v7h-7zM1 1v5h5v-5zM2 2h3v3h-3zM22 0h7v7h-7zM23 1v5h5v-5zM24 2h3v3h-3zM0 22h7v7h-7zM1 23v5h5v-5zM2 24h3v3h-3zM20 20h5v5h-5zM21 21v3h3v-3zM22 22h1v1h-1z"/>
<path fill="none" stroke="#000" stroke-width="1" d="M9 .5h3M13 .5h2M16 .5h3M8 1.500h2M12 1.500h1M14 1.500h3M18 1.500h1M20 1.500h1M8 2.500h4M13 2.500h1M16 2.500h2M19 2.500h2M9 3.500h2M12 3.500h3M16 3.500h1M18 3.500h3M10 4.500h3M14 4.500h1M16 4.500h4M8 5.500h1M11 5.500h4M17 5.500h2M20 5.500h1M8 6.500h1M10 6.500h1M12 6.500h1M14 6.500h1M16 6.500h1M18 6.500h1M20 6.500h1M11 7.500h2M14 7.500h3M18 7.500h1M0 8.500h1M2 8.500h3M6 8.500h1M9 8.500h2M12 8.500h1M15 8.500h3M19 8.500h1M22 8.500h2M25 8.500h1M27 8.500h2M1 9.500h2M4 9.500h1M7 9.500h3M11 9.500h1M14 9.500h2M17 9.500h1M20 9.500h3M24 9.500h1M26 9.500h3M0 10.500h3M5 10.500h2M10 10.500h2M13 10.500h3M18 10.500h2M21 10.500h1M23 10.500h3M28 10.500h1M2 11.500h1M4 11.500h3M8 11.500h1M11 11.500h1M15 11.500h1M18 11.500h1M20 11.500h3M25 11.500h1M27 11.500h1M0 12.500h2M3 12.500h1M6 12.500h1M8 12.500h3M12 12.500h2M16 12.500h2M19 12.500h1M22 12.500h2M26 12.500h3M1 13.500h1M4 13.500h2M9 13.500h1M11 13.500h2M15 13.500h1M18 13.500h3M23 13.500h1M25 13.500h2M28 13.500h1M0 14.500h4M6 14.500h1M8 14.500h2M12 14.500h1M14 14.500h3M19 14.500h2M22 14.500h1M24 14.500h1M27 14.500h2M2 15.500h1M5 15.500h3M10 15.500h1M13 15.500h1M17 15.500h1M20 15.500h3M25 15.500h3M0 16.500h1M3 16.500h2M6 16.500h1M9 16.500h2M12 16.500h3M16 16.500h1M18 16.500h2M23 16.500h2M26 16.500h1M28 16.500h1M1 17.500h1M4 17.500h1M7 17.500h2M11 17.500h1M15 17.500h1M18 17.500h1M21 17.500h1M24 17.500h1M27 17.500h1M0 18.500h2M3 18.500h1M5 18.500h2M9 18.500h1M12 18.500h1M14 18.500h4M19 18.500h1M21 18.500h3M25 18.500h3M2 19.500h1M4 19.500h1M7 19.500h1M9 19.500h2M12 19.500h2M16 19.500h1M18 19.500h1M20 19.500h2M24 19.500h2M28 19.500h1M0 20.500h1M3 20.500h3M8 20.500h3M12 20.500h1M14 20.500h3M18 20.500h1M26 20.500h2M8 21.500h1M10 21.500h2M14 21.500h1M16 21.500h2M27 21.500h1M8 22.500h3M12 22.500h1M15 22.500h3M19 22.500h1M26 22.500h2M9 23.500h1M11 23.500h2M14 23.500h1M17 23.500h2M27 23.500h1M8 24.500h2M12 24.500h1M14 24.500h2M18 24.500h1M26 24.500h1M28 24.500h1M8 25.500h1M10 25.500h3M15 25.500h1M17 25.500h2M21 25.500h1M23 25.500h1M25 25.500h2M9 26.500h2M13 26.500h1M15 26.500h3M19 26.500h1M22 26.500h2M26 26.500h1M28 26.500h1M8 27.500h3M12 27.500h2M16 27.500h1M18 27.500h2M21 27.500h1M24 27.500h1M27 27.500h2M9 28.500h1M11 28.500h1M14 28.500h1M17 28.500h2M20 28.500h2M24 28.500h2M27 28.500h1"/>
</g>
</svg>
